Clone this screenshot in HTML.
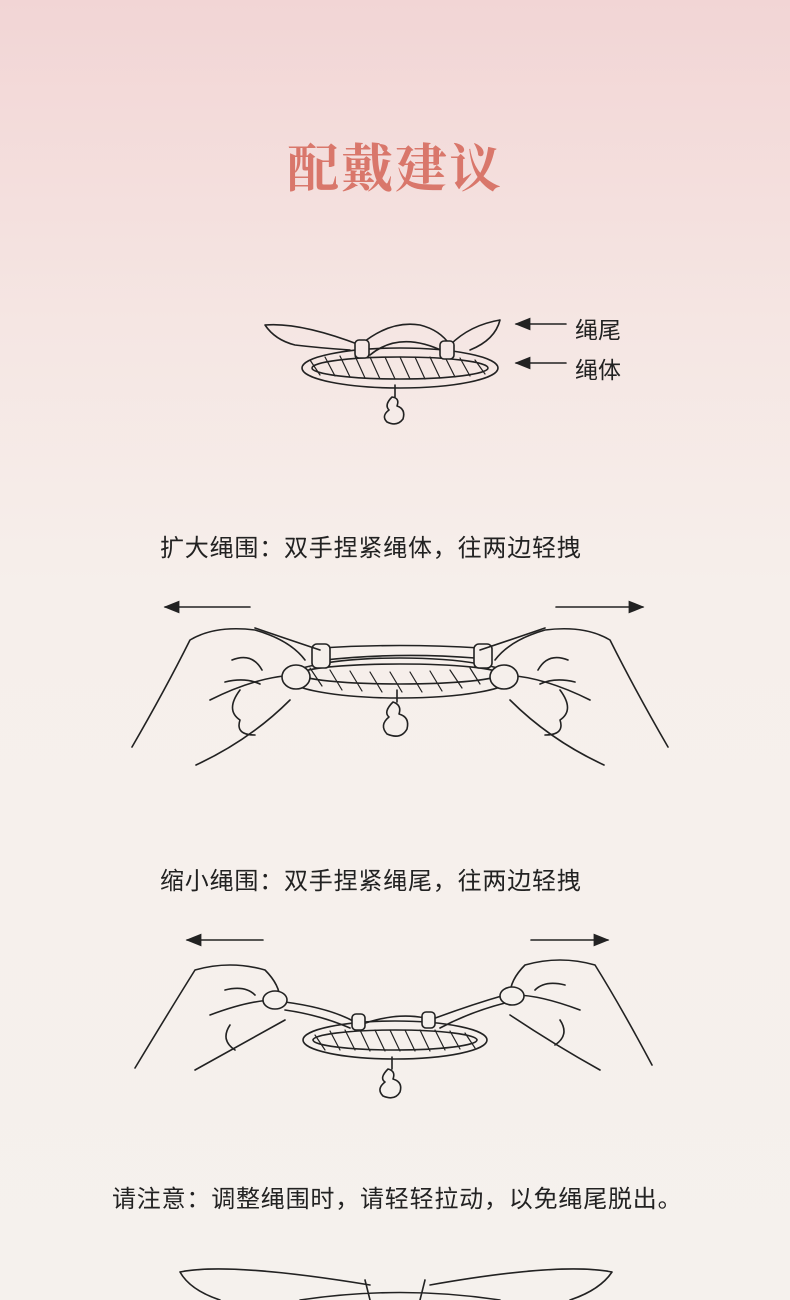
<!DOCTYPE html>
<html><head><meta charset="utf-8"><style>
html,body{margin:0;padding:0}
body{width:790px;height:1300px;overflow:hidden;background:linear-gradient(180deg,#f2d5d5 0%,#f5e6e3 25%,#f6efeb 45%,#f5f1ed 100%);position:relative;font-family:"Liberation Sans","Noto Sans CJK SC",sans-serif}
.t{position:absolute;color:#222;white-space:nowrap}
.s{font-size:24px;letter-spacing:0.8px}
svg{position:absolute;left:0;top:0}
</style></head><body>
<div class="t" style="left:0;width:790px;text-align:center;top:127px;font-size:52px;font-weight:bold;color:#d9776b;font-family:'Noto Serif CJK SC',serif;letter-spacing:2px">配戴建议</div>
<div class="t" style="left:575px;top:311px;font-size:23px">绳尾</div>
<div class="t" style="left:575px;top:351px;font-size:23px">绳体</div>
<div class="t s" style="left:160px;top:528px">扩大绳围：双手捏紧绳体，往两边轻拽</div>
<div class="t s" style="left:160px;top:861px">缩小绳围：双手捏紧绳尾，往两边轻拽</div>
<div class="t s" style="left:112px;top:1179px">请注意：调整绳围时，请轻轻拉动，以免绳尾脱出。</div>
<svg width="790" height="1300" fill="none" stroke="#222" stroke-width="1.6" stroke-linecap="round" stroke-linejoin="round">
<defs>
<marker id="a" markerWidth="10" markerHeight="8" refX="9" refY="4" orient="auto"><path d="M0,0L10,4L0,8z" fill="#222" stroke="none"/></marker>
</defs>
<line x1="566" y1="324" x2="516" y2="324" marker-end="url(#a)"/>
<line x1="566" y1="363" x2="516" y2="363" marker-end="url(#a)"/>
<path d="M265,325 Q300,322 360,345 M265,325 Q275,340 295,345 Q320,348 350,350"/>
<path d="M500,320 Q470,325 450,345 M500,320 Q495,340 470,350"/>
<path d="M360,345 Q390,320 420,325 Q440,330 450,345 M370,355 Q400,330 445,352"/>
<ellipse cx="400" cy="368" rx="98" ry="20"/>
<ellipse cx="400" cy="368" rx="88" ry="11"/>
<path d="M310,360 l10,15 M325,357 l10,19 M340,356 l10,21 M355,356 l10,22 M370,357 l10,22 M385,357 l10,22 M400,357 l10,22 M415,357 l10,22 M430,357 l10,21 M445,357 l10,20 M460,358 l10,18 M475,360 l10,14" stroke-width="1.2"/>
<rect x="355" y="340" width="14" height="18" rx="4" fill="#f5e8e6"/>
<rect x="440" y="341" width="14" height="18" rx="4" fill="#f5e8e6"/>
<path d="M395,385 l0,12 M392,397 q-8,8 -3,13 q-8,6 -2,12 q10,5 16,-3 q3,-10 -6,-13 q3,-8 -5,-9z" fill="#f5ebe8"/>
<line x1="250" y1="607" x2="165" y2="607" marker-end="url(#a)"/>
<line x1="556" y1="607" x2="643" y2="607" marker-end="url(#a)"/>
<ellipse cx="400" cy="678" rx="112" ry="20"/>
<ellipse cx="400" cy="674" rx="100" ry="10"/>
<path d="M320,648 Q400,643 480,648 M325,660 Q400,652 475,658"/>
<path d="M310,668 l12,18 M330,670 l12,20 M350,671 l12,20 M370,672 l12,20 M390,672 l12,20 M410,672 l12,20 M430,671 l12,20 M450,670 l12,18 M470,668 l10,16" stroke-width="1.2"/>
<rect x="312" y="644" width="18" height="24" rx="5" fill="#f5efeb"/>
<rect x="474" y="644" width="18" height="24" rx="5" fill="#f5efeb"/>
<path d="M397,690 l0,12 M393,702 q-10,10 -4,15 q-10,8 -2,17 q14,6 20,-5 q3,-12 -8,-15 q3,-9 -6,-12z" fill="#f5efeb"/>
<path d="M132,747 Q165,690 190,640 Q215,625 255,630 Q290,640 305,660 M210,700 Q260,675 300,675 M255,628 Q290,640 320,650 M196,765 Q250,740 290,700 M240,690 q-15,20 0,30 q-5,15 15,15 M232,660 q20,-8 30,10 M225,682 q20,-5 35,2" />
<ellipse cx="296" cy="677" rx="14" ry="12" fill="#f5efeb"/>
<path d="M668,747 Q635,690 610,640 Q585,625 545,630 Q510,640 495,660 M590,700 Q540,675 500,675 M545,628 Q510,640 480,650 M604,765 Q550,740 510,700 M560,690 q15,20 0,30 q5,15 -15,15 M568,660 q-20,-8 -30,10 M575,682 q-20,-5 -35,2"/>
<ellipse cx="504" cy="677" rx="14" ry="12" fill="#f5efeb"/>
<line x1="263" y1="940" x2="187" y2="940" marker-end="url(#a)"/>
<line x1="531" y1="940" x2="608" y2="940" marker-end="url(#a)"/>
<ellipse cx="395" cy="1040" rx="92" ry="19"/>
<ellipse cx="395" cy="1040" rx="82" ry="10"/>
<path d="M315,1035 l10,15 M330,1031 l10,19 M345,1030 l10,20 M360,1030 l10,21 M375,1030 l10,21 M390,1030 l10,21 M405,1030 l10,21 M420,1030 l10,21 M435,1030 l10,20 M450,1031 l10,18 M465,1033 l10,15" stroke-width="1.2"/>
<path d="M285,1002 Q330,1008 355,1022 M285,1010 Q320,1015 350,1028 M505,995 Q470,1005 430,1020 M505,1003 Q470,1012 440,1028 M360,1025 Q395,1012 425,1018"/>
<rect x="352" y="1014" width="13" height="16" rx="4" fill="#f5f1ed"/>
<rect x="422" y="1012" width="13" height="16" rx="4" fill="#f5f1ed"/>
<path d="M392,1057 l0,12 M388,1069 q-9,9 -3,13 q-9,7 -2,14 q12,5 17,-4 q3,-10 -7,-13 q3,-8 -5,-10z" fill="#f5f1ed"/>
<path d="M135,1068 Q170,1010 195,970 Q230,960 265,970 Q280,985 280,1000 M210,1015 Q250,1000 275,1000 M195,1070 Q240,1045 285,1020 M230,1025 q-10,15 5,25 M225,990 q20,-5 30,5"/>
<ellipse cx="275" cy="1000" rx="12" ry="9" fill="#f5f1ed"/>
<path d="M652,1065 Q620,1005 595,965 Q560,955 525,965 Q510,980 510,995 M580,1010 Q540,995 515,995 M600,1070 Q555,1045 510,1015 M560,1020 q10,15 -5,25 M565,985 q-20,-5 -30,5"/>
<ellipse cx="512" cy="996" rx="12" ry="9" fill="#f5f1ed"/>
<path d="M180,1272 Q230,1262 370,1285 M180,1272 Q190,1290 220,1300 M612,1272 Q560,1262 430,1285 M612,1272 Q600,1290 570,1300 M365,1280 l5,20 M425,1280 l-5,20 M300,1300 Q400,1285 500,1300"/>
</svg>
</body></html>
